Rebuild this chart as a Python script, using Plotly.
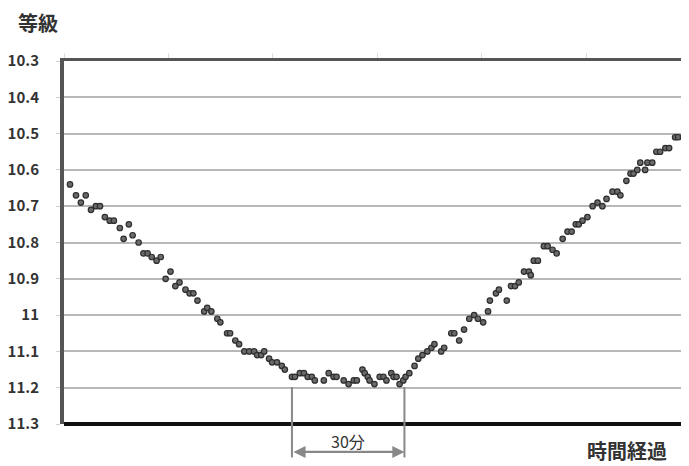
import plotly.graph_objects as go

# elapsed time (minutes) and stellar magnitude (等級)
time_min = [1.6, 3.2, 4.5, 5.8, 7.2, 8.5, 9.6, 10.9, 12.2, 13.3, 14.9, 15.9, 17.3, 18.3, 19.9,
            21.2, 22.3, 23.4, 24.7, 25.8, 27.1, 28.4, 29.7, 30.8, 32.4, 33.5, 34.5, 35.6, 37.4,
            38.2, 39.3, 40.9, 41.7, 43.5, 44.3, 45.7, 46.7, 48.1, 49.4, 50.7, 51.5, 52.6, 53.4,
            54.7, 55.5, 56.8, 58.1, 58.9, 60.8, 61.6, 62.9, 64.0, 65.0, 66.1, 66.9, 69.3, 70.6,
            71.9, 72.7, 74.6, 75.9, 77.3, 78.1, 79.6, 80.2, 81.0, 81.5, 82.8, 84.2, 85.2, 86.0,
            87.3, 87.9, 88.7, 89.5, 90.5, 91.1, 92.1, 93.5, 94.5, 95.6, 96.9, 98.0, 98.8, 100.6,
            101.4, 103.3, 104.1, 105.4, 106.7, 108.1, 109.4, 110.4, 111.8, 113.1, 113.6, 115.2,
            116.0, 118.1, 119.2, 120.3, 121.3, 122.7, 124.0, 124.5, 125.3, 126.4, 128.0, 129.0,
            130.3, 131.4, 133.0, 134.3, 135.4, 136.5, 137.3, 138.3, 139.6, 141.0, 142.3, 143.6,
            144.7, 146.3, 147.6, 148.4, 150.0, 151.1, 151.9, 152.9, 153.7, 155.0, 155.6, 156.9,
            158.0, 159.0, 160.4, 161.4, 163.0, 163.8, 165.1, 166.5]
magnitude = [10.64, 10.67, 10.69, 10.67, 10.71, 10.70, 10.70, 10.73, 10.74, 10.74, 10.76, 10.79,
             10.75, 10.78, 10.80, 10.83, 10.83, 10.84, 10.85, 10.84, 10.90, 10.88, 10.92, 10.91,
             10.93, 10.94, 10.94, 10.96, 10.99, 10.98, 10.99, 11.01, 11.02, 11.05, 11.05, 11.07,
             11.08, 11.10, 11.10, 11.10, 11.11, 11.11, 11.10, 11.12, 11.13, 11.13, 11.14, 11.15,
             11.17, 11.17, 11.16, 11.16, 11.17, 11.17, 11.18, 11.18, 11.16, 11.17, 11.17, 11.18,
             11.19, 11.18, 11.18, 11.15, 11.16, 11.17, 11.18, 11.19, 11.17, 11.17, 11.18, 11.16,
             11.17, 11.17, 11.19, 11.18, 11.17, 11.16, 11.14, 11.12, 11.11, 11.10, 11.09, 11.08,
             11.10, 11.09, 11.05, 11.05, 11.07, 11.04, 11.01, 11.00, 11.01, 11.02, 10.99, 10.96,
             10.94, 10.93, 10.96, 10.92, 10.92, 10.91, 10.88, 10.88, 10.89, 10.85, 10.85, 10.81,
             10.81, 10.82, 10.83, 10.79, 10.77, 10.77, 10.75, 10.75, 10.74, 10.73, 10.70, 10.69,
             10.70, 10.68, 10.66, 10.66, 10.67, 10.63, 10.61, 10.61, 10.60, 10.58, 10.60, 10.58,
             10.58, 10.55, 10.55, 10.54, 10.54, 10.51, 10.51, 10.51, 10.49]

y_ticks = [10.3, 10.4, 10.5, 10.6, 10.7, 10.8, 10.9, 11.0, 11.1, 11.2, 11.3]
y_tick_labels = ["10.3", "10.4", "10.5", "10.6", "10.7", "10.8", "10.9", "11", "11.1", "11.2", "11.3"]

span_start = 60.8   # start of the 30-minute minimum
span_end = 90.8     # end of the 30-minute minimum
x_max = 166.7
x_tick_step = 27.87

FONT = "Noto Sans CJK JP"

fig = go.Figure()
fig.add_trace(go.Scatter(
    x=time_min, y=magnitude, mode="markers",
    marker=dict(size=5.5, color="#6a6a6a", line=dict(color="#2e2e2e", width=1.2)),
    cliponaxis=False, showlegend=False, hoverinfo="x+y",
))

# the page body has an 8px default margin, so the figure is 8px smaller
fig.update_layout(
    width=681, height=458,
    margin=dict(l=53, r=0, t=53, b=42),
    paper_bgcolor="white", plot_bgcolor="white",
    font=dict(family=FONT, color="#333333"),
    xaxis=dict(
        range=[0, x_max], side="top", showline=True, linecolor="#555555", linewidth=3,
        showgrid=False, zeroline=False, showticklabels=False,
        ticks="outside", ticklen=5, tickcolor="#dddddd", tickwidth=1,
        tick0=0, dtick=x_tick_step,
    ),
    yaxis=dict(
        range=[11.3, 10.3], tickvals=y_ticks, ticktext=y_tick_labels,
        showline=True, linecolor="#555555", linewidth=4,
        showgrid=True, gridcolor="#b8b8b8", gridwidth=1.5, zeroline=False,
        ticks="outside", ticklen=4, tickcolor="#d0d0d0", tickwidth=1,
        ticklabelstandoff=14,
        tickfont=dict(family=FONT, size=15, color="#333333", weight="bold"),
    ),
)

# bottom frame line (thick, black)
fig.add_shape(type="line", xref="paper", yref="paper", x0=0, x1=1, y0=0, y1=0,
              line=dict(color="#111111", width=4), layer="above")

# vertical markers of the 30-minute minimum
for xv in (span_start, span_end):
    fig.add_shape(type="line", xref="x", yref="paper", x0=xv, x1=xv, y0=0.102, y1=-0.092,
                  line=dict(color="#888888", width=2), layer="above")

# double-headed arrow
fig.add_annotation(x=span_end, y=-0.077, xref="x", yref="paper",
                   ax=span_start, ay=0, axref="x", ayref="pixel",
                   showarrow=True, arrowhead=2, arrowside="end+start",
                   arrowsize=1.1, arrowwidth=2.2, arrowcolor="#888888", text="")

fig.add_annotation(x=(span_start + span_end) / 2, y=-0.047, xref="x", yref="paper",
                   xanchor="center", yanchor="middle",
                   text="30分", showarrow=False,
                   font=dict(family=FONT, size=16, color="#333333"))

fig.add_annotation(x=-0.042, y=1.105, xref="paper", yref="paper", text="等級",
                   xanchor="center", yanchor="middle", borderpad=0,
                   showarrow=False, font=dict(family=FONT, size=20, color="#333333", weight="bold"))

fig.add_annotation(x=0.901, y=-0.074, xref="paper", yref="paper", text="時間経過",
                   xanchor="center", yanchor="middle", borderpad=0,
                   showarrow=False, font=dict(family=FONT, size=20, color="#333333", weight="bold"))

fig.write_html("out.html")
